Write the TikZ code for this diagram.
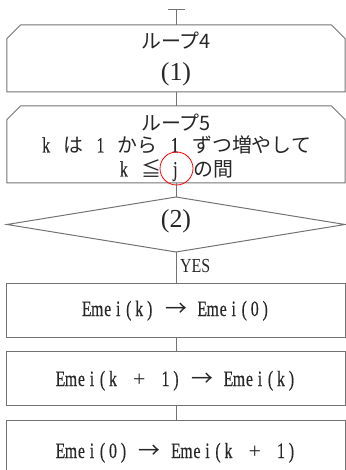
\documentclass[tikz,border=0pt]{standalone}
\usepackage{fontspec}
\setmainfont{Liberation Serif}
\newfontfamily\fJP{Noto Sans CJK JP}
\newfontfamily\fCond[FakeStretch=0.8]{Liberation Serif}
\newfontfamily\fMono[FakeStretch=0.72,FakeBold=0.4]{Liberation Serif}
\usetikzlibrary{shapes.geometric}
\newcommand\mc[1]{\makebox[10.5bp]{#1}}
\def\mloop#1{\ifx#1\relax\else\mc{#1}\expandafter\mloop\fi}
\newcommand\mstr[1]{\mloop#1\relax}
\newcommand\mk[1]{{\fMono\fontsize{22}{24}\selectfont\mc{#1}}}
\newcommand\arr{\makebox[21bp]{\fJP →}}
\newcommand\pls{\makebox[21bp]{\rmfamily +}}
\tikzset{
  ln/.style={draw=black!55, line width=1bp},
  loopbox/.style={rectangle, minimum width=338bp, inner sep=0pt, outer sep=0pt},
  procbox/.style={ln, rectangle, minimum width=338bp, minimum height=54bp,
    inner sep=0pt, outer sep=0pt, text height=20bp,
    font=\fMono\fontsize{22}{24}\selectfont, text=black!85},
  cond/.style={ln, diamond, minimum width=338bp, minimum height=55bp,
    inner sep=0pt, outer sep=0pt, aspect=6, text=black!85},
  txt/.style={inner sep=0pt, outer sep=0pt, anchor=base, text=black!85},
  jp/.style={font=\fJP\fontsize{20}{24}\selectfont},
}
\newcommand\chamfer[1]{%
  \draw[ln] ([xshift=13.5bp]#1.north west) -- ([xshift=-13.5bp]#1.north east)
    -- ([yshift=-13.5bp]#1.north east) -- (#1.south east) -- (#1.south west)
    -- ([yshift=-13.5bp]#1.north west) -- cycle;}
\begin{document}
\begin{tikzpicture}[x=1bp,y=-1bp]
\useasboundingbox (0,0) rectangle (345,470);
\coordinate (top) at (176,10);
\node[loopbox, minimum height=67bp] (loop4) at (176,58.5) {};
\chamfer{loop4}
\node[txt,jp] (l4a) at (176,48.5) {ループ4};
\node[txt,font=\fontsize{26}{30}\selectfont] (l4b) at (176,80.4) {(1)};
\node[loopbox, minimum height=77bp] (loop5) at (176,144.5) {};
\chamfer{loop5}
\node[txt,jp] (l5a) at (176,130.5) {ループ5};
\node[txt,jp] (l5b) at (176,152.5) {\mk{k}\hspace{12bp}は\hspace{12bp}\mk{1}\hspace{12bp}から\hspace{12bp}\mk{1}\hspace{12bp}ずつ増やして};
\node[txt,jp] (l5c) at (176,176.5) {\mk{k}\hspace{12bp}\makebox[20bp]{≦}\hspace{9bp}\mk{j}\hspace{13bp}の間};
\node[draw=red, circle, line width=0.8bp, minimum size=33bp, inner sep=0pt] (mark) at (176.5,168.5) {};
\node[cond, font=\fontsize{26}{30}\selectfont, text height=20bp, text depth=13bp] (dec) at (176,224.5) {(2)};
\node[txt, anchor=base west, font=\fCond\fontsize{20}{24}\selectfont] (yes) at (180,272) {YES};
\node[procbox, text depth=8bp] (p1) at (176,310) {\mstr{Emei(k)}\mc{}\arr\mc{}\mstr{Emei(0)}};
\node[procbox, text depth=4bp] (p2) at (176,378) {\mstr{Emei(k}\mc{}\pls\mc{}\mstr{1)}\mc{}\arr\mc{}\mstr{Emei(k)}};
\node[procbox, minimum height=60bp, text depth=4bp] (p3) at (176,450) {\mstr{Emei(0)}\mc{}\arr\mc{}\mstr{Emei(k}\mc{}\pls\mc{}\mstr{1)}};
\draw[ln] (top) -- (loop4.north);
\draw[ln] ([xshift=-8.5bp]top) -- ([xshift=8.5bp]top);
\draw[ln] (loop4.south) -- (loop5.north);
\draw[ln] (loop5.south) -- (dec.north);
\draw[ln] (dec.south) -- (p1.north);
\draw[ln] (p1.south) -- (p2.north);
\draw[ln] (p2.south) -- (p3.north);
\end{tikzpicture}
\end{document}
